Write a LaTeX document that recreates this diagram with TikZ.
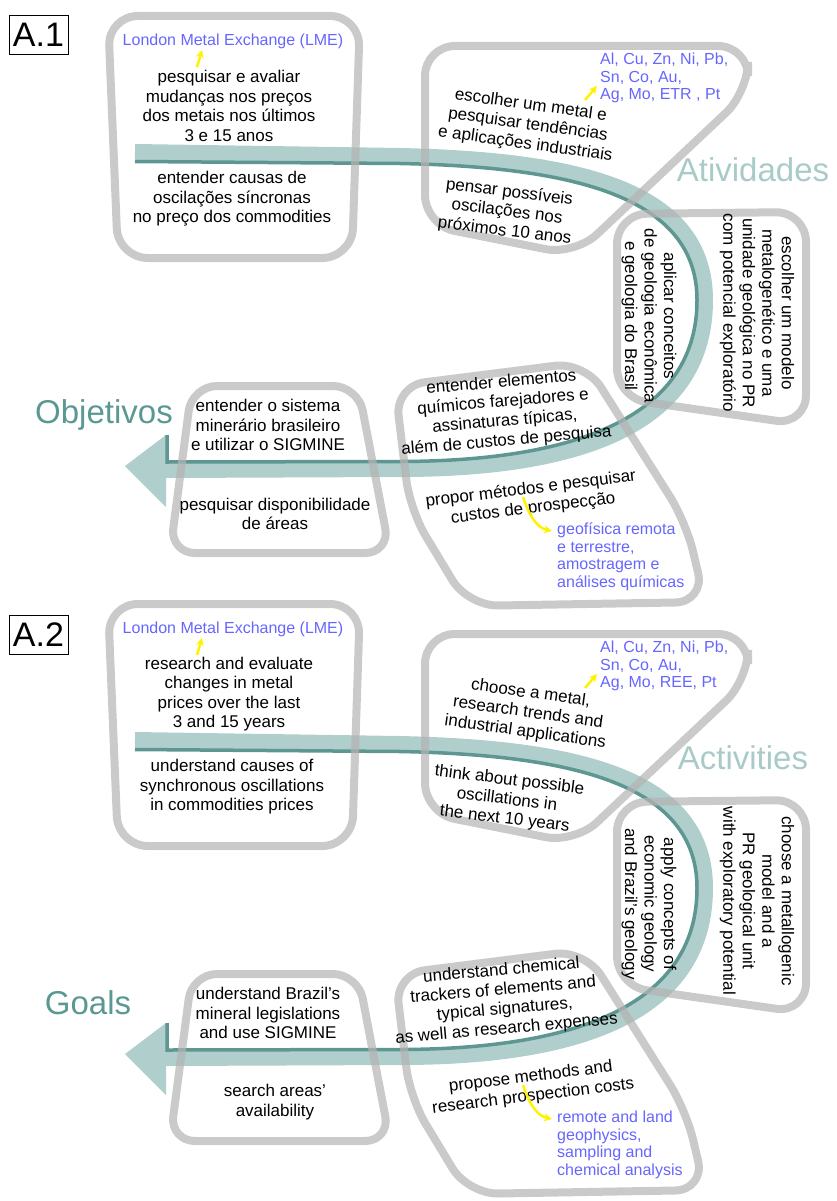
\documentclass[tikz,border=0pt]{standalone}
\usepackage{fontspec}
\setmainfont{Liberation Sans}
\definecolor{tealclaro}{HTML}{B0CECB}
\definecolor{tealescuro}{HTML}{5E9692}
\definecolor{tealtexto}{HTML}{5A9893}
\definecolor{tealleve}{HTML}{A8CBC8}
\definecolor{azulelem}{HTML}{6666FF}
\definecolor{cinzacaixa}{HTML}{B4B4B4}
\tikzset{
    caixa/.style={draw=cinzacaixa,line width=8pt,opacity=0.7,rounded corners=30pt},
    faixa/.style={draw=tealclaro,line width=16pt},
    borda/.style={draw=tealescuro,line width=3.5pt},
    txt/.style={align=center,inner sep=0pt,font=\fontsize{17}{19.5}\selectfont},
    azul/.style={text=azulelem,inner sep=0pt,font=\fontsize{16}{17.5}\selectfont},
    titulo/.style={inner sep=0pt,font=\fontsize{33}{36}\selectfont},
    rotulo/.style={draw,line width=0.8pt,minimum width=59pt,minimum height=39pt,inner sep=0pt,font=\fontsize{34}{36}\selectfont},
    seta/.style={->,>=stealth,draw=yellow,line width=2.5pt}
}
\begin{document}
\begin{tikzpicture}[x=1pt,y=-1pt]
        \useasboundingbox (0,0) rectangle (836,1201);

        \node[rotulo] (a1) at (38.5,34.5) {A.1};

        \draw[faixa] (135,152) -- (400,156) .. controls (580,160) and (705,190) .. (705,300) .. controls (705,420) and (590,469) .. (400,469) -- (166,470);
        \fill[tealclaro] (166,435) -- (125,466) -- (166,507) -- cycle;
        \draw[borda] (135,161.5) -- (400,163.5) .. controls (575,167) and (697,197) .. (697,300) .. controls (697,410) and (590,461) .. (400,461.5) -- (167,462) -- (167,435);

        \draw[caixa] (108,16) -- (360,16) -- (352,258) -- (118,258) -- cycle;
        \draw[caixa] (425,46) -- (748,46) -- (748,92) -- (575,255) -- (425,225) -- cycle;
        \draw[caixa] (617,214) -- (806,212) -- (806,425) -- (617,398) -- cycle;
        \draw[caixa] (395,386) -- (585,362) -- (686,522) -- (705,602) -- (468,606) -- (410,510) -- cycle;
        \draw[caixa,rounded corners=25pt] (192,386) -- (358,386) -- (390,553) -- (170,553) -- cycle;

        \node[azul] (lme) at (233,41) {London Metal Exchange (LME)};
        \node[txt] (pesq) at (229,106) {pesquisar e avaliar\\mudanças nos preços\\dos metais nos últimos\\3 e 15 anos};
        \node[txt] (causas) at (232,199) {entender causas de\\oscilações síncronas\\no preço dos commodities};
        \coordinate (s1a) at (197,67);
        \coordinate (s1b) at (202,50);
        \draw[seta] (s1a) -- (s1b);

        \node[txt,rotate=-8] (metal) at (528,125) {escolher um metal e\\pesquisar tendências\\e aplicações industriais};
        \node[txt,rotate=-7] (oscil) at (507,212) {pensar possíveis\\oscilações nos\\próximos 10 anos};
        \node[azul,align=left,anchor=west] (elem) at (600,78) {Al, Cu, Zn, Ni, Pb,\\Sn, Co, Au,\\Ag, Mo, ETR , Pt};
        \coordinate (s2a) at (585,100);
        \coordinate (s2b) at (597,86);
        \draw[seta] (s2a) -- (s2b);

        \node[titulo,text=tealleve] (ativ) at (753,170) {Atividades};
        \node[txt,rotate=-90] (modelo) at (757,313) {escolher um modelo\\metalogenético e uma\\unidade geológica no PR\\com potencial exploratório};
        \node[txt,rotate=-90] (concei) at (649,316) {aplicar conceitos\\de geologia econômica\\e geologia do Brasil};

        \node[txt,rotate=5] (quimi) at (504,412) {entender elementos\\químicos farejadores e\\assinaturas típicas,\\além de custos de pesquisa};
        \node[txt,rotate=7] (metod) at (532,499) {propor métodos e pesquisar\\custos de prospecção};
        \node[azul,align=left,anchor=north west] (geof) at (557,523) {geofísica remota\\e terrestre,\\amostragem e\\análises químicas};
        \coordinate (s3a) at (523,497);
        \coordinate (s3b) at (552,531);
        \draw[seta] (s3a) .. controls (530,518) and (538,528) .. (s3b);

        \node[titulo,text=tealtexto] (obj) at (104,415) {Objetivos};
        \node[txt] (sist) at (268,425) {entender o sistema\\minerário brasileiro\\e utilizar o SIGMINE};
        \node[txt] (areas) at (275,514) {pesquisar disponibilidade\\de áreas};

        \begin{scope}[shift={(0,588)}]
        \node[rotulo] (a2) at (38.5,46.5) {A.2};

        \draw[faixa] (135,152) -- (400,156) .. controls (580,160) and (705,190) .. (705,300) .. controls (705,420) and (590,469) .. (400,469) -- (166,470);
        \fill[tealclaro] (166,435) -- (125,466) -- (166,507) -- cycle;
        \draw[borda] (135,161.5) -- (400,163.5) .. controls (575,167) and (697,197) .. (697,300) .. controls (697,410) and (590,461) .. (400,461.5) -- (167,462) -- (167,435);

        \draw[caixa] (108,16) -- (360,16) -- (352,258) -- (118,258) -- cycle;
        \draw[caixa] (425,46) -- (748,46) -- (748,92) -- (575,255) -- (425,225) -- cycle;
        \draw[caixa] (617,214) -- (806,212) -- (806,425) -- (617,398) -- cycle;
        \draw[caixa] (395,386) -- (585,362) -- (686,522) -- (705,602) -- (468,606) -- (410,510) -- cycle;
        \draw[caixa,rounded corners=25pt] (192,386) -- (358,386) -- (390,553) -- (170,553) -- cycle;

        \node[azul] (lme2) at (233,41) {London Metal Exchange (LME)};
        \node[txt] (pesq2) at (229,106) {research and evaluate\\changes in metal\\prices over the last\\3 and 15 years};
        \node[txt] (causas2) at (232,199) {understand causes of\\synchronous oscillations\\in commodities prices};
        \coordinate (t1a) at (197,67);
        \coordinate (t1b) at (202,50);
        \draw[seta] (t1a) -- (t1b);

        \node[txt,rotate=-8] (metal2) at (528,125) {choose a metal,\\research trends and\\industrial applications};
        \node[txt,rotate=-7] (oscil2) at (507,212) {think about possible\\oscillations in\\the next 10 years};
        \node[azul,align=left,anchor=west] (elem2) at (600,78) {Al, Cu, Zn, Ni, Pb,\\Sn, Co, Au,\\Ag, Mo, REE, Pt};
        \coordinate (t2a) at (585,100);
        \coordinate (t2b) at (597,86);
        \draw[seta] (t2a) -- (t2b);

        \node[titulo,text=tealleve] (ativ2) at (743,170) {Activities};
        \node[txt,rotate=-90] (modelo2) at (757,313) {choose a metallogenic\\model and a\\PR geological unit\\with exploratory potential};
        \node[txt,rotate=-90] (concei2) at (649,316) {apply concepts of\\economic geology\\and Brazil’s geology};

        \node[txt,rotate=5] (quimi2) at (504,412) {understand chemical\\trackers of elements and\\typical signatures,\\as well as research expenses};
        \node[txt,rotate=7] (metod2) at (532,499) {propose methods and\\research prospection costs};
        \node[azul,align=left,anchor=north west] (geof2) at (557,523) {remote and land\\geophysics,\\sampling and\\chemical analysis};
        \coordinate (t3a) at (523,497);
        \coordinate (t3b) at (552,531);
        \draw[seta] (t3a) .. controls (530,518) and (538,528) .. (t3b);

        \node[titulo,text=tealtexto] (goals) at (88,415) {Goals};
        \node[txt] (sist2) at (268,425) {understand Brazil’s\\mineral legislations\\and use SIGMINE};
        \node[txt] (areas2) at (275,514) {search areas’\\availability};
        \end{scope}

    \end{tikzpicture}
\end{document}
